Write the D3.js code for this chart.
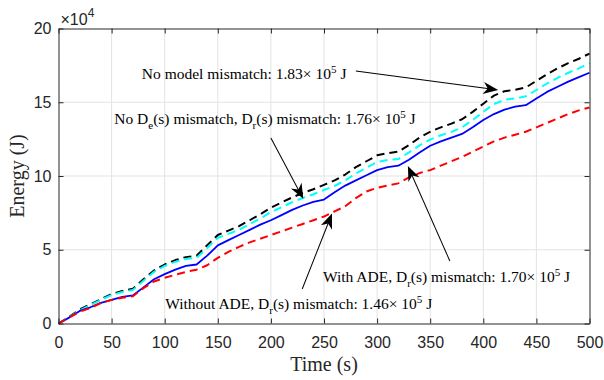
<!DOCTYPE html>
<html>
<head>
<meta charset="utf-8">
<script src="https://cdn.jsdelivr.net/npm/d3@7"></script>
<style>
  body { margin: 0; background: #fff; }
</style>
</head>
<body>
<div id="energy-plot"></div>
<script>
// energy consumed over time for four mismatch cases (values in units of 1e4 J)
const time = [0, 10, 20, 30, 40, 50, 60, 70, 80, 90, 100, 110, 120, 130, 140, 150, 160, 170, 180, 190,
  200, 210, 220, 230, 240, 250, 260, 270, 280, 290, 300, 310, 320, 330, 340, 350, 360, 370, 380, 390,
  400, 410, 420, 430, 440, 450, 460, 470, 480, 490, 500];

const noMismatch = [0, 0.45, 0.95, 1.3, 1.65, 2.0, 2.2, 2.35, 3.0, 3.6, 4.0, 4.3, 4.5, 4.6, 5.3, 6.0, 6.3, 6.6, 7.0, 7.4,
  7.85, 8.2, 8.55, 8.85, 9.1, 9.4, 9.7, 10.1, 10.6, 11.0, 11.4, 11.55, 11.65, 12.1, 12.6, 13.0, 13.3, 13.55, 13.85, 14.35,
  14.9, 15.45, 15.75, 15.85, 16.0, 16.45, 16.9, 17.3, 17.65, 17.95, 18.3];

const noDeMismatch = [0, 0.42, 0.9, 1.25, 1.6, 1.93, 2.13, 2.27, 2.9, 3.5, 3.9, 4.18, 4.37, 4.45, 5.12, 5.8, 6.08, 6.36, 6.74, 7.12,
  7.55, 7.88, 8.22, 8.51, 8.76, 9.05, 9.33, 9.7, 10.18, 10.56, 10.95, 11.08, 11.15, 11.6, 12.08, 12.47, 12.76, 12.99, 13.3, 13.8,
  14.35, 14.88, 15.17, 15.26, 15.4, 15.83, 16.27, 16.66, 17.0, 17.3, 17.65];

const withADE = [0, 0.4, 0.85, 1.1, 1.4, 1.6, 1.8, 1.9, 2.45, 3.0, 3.35, 3.65, 3.9, 4.0, 4.6, 5.3, 5.65, 6.0, 6.35, 6.7,
  7.0, 7.35, 7.7, 8.0, 8.25, 8.4, 8.9, 9.35, 9.7, 10.05, 10.4, 10.6, 10.7, 11.1, 11.6, 12.05, 12.35, 12.6, 12.85, 13.3,
  13.8, 14.2, 14.5, 14.7, 14.8, 15.25, 15.7, 16.05, 16.4, 16.7, 17.0];

const withoutADE = [0, 0.4, 0.8, 1.05, 1.4, 1.6, 1.75, 1.85, 2.4, 2.85, 3.1, 3.3, 3.5, 3.65, 3.95, 4.45, 4.85, 5.2, 5.5, 5.75,
  6.0, 6.25, 6.5, 6.75, 7.0, 7.25, 7.6, 7.95, 8.5, 8.95, 9.2, 9.35, 9.5, 9.9, 10.2, 10.4, 10.7, 11.0, 11.3, 11.65,
  12.0, 12.35, 12.6, 12.8, 13.0, 13.3, 13.6, 13.9, 14.2, 14.45, 14.65];

const xTicks = [0, 50, 100, 150, 200, 250, 300, 350, 400, 450, 500];
const yTicks = [0, 5, 10, 15, 20];

const series = [
  { name: "noMismatch", values: noMismatch, color: "#000000", dash: "8,5" },
  { name: "noDeMismatch", values: noDeMismatch, color: "#00ffff", dash: "8,5" },
  { name: "withADE", values: withADE, color: "#0000ff", dash: null },
  { name: "withoutADE", values: withoutADE, color: "#ff0000", dash: "8,5" }
];

// annotation text pieces: s = sub, p = super; positions in data units
const annotations = [
  { text: [["No model mismatch: 1.83× 10"], ["5", "p"], [" J"]], tx: 78.5, ty: 16.58, from: [280, 17.12], to: [414, 15.83] },
  { text: [["No D"], ["e", "s"], ["(s) mismatch, D"], ["r", "s"], ["(s) mismatch: 1.76× 10"], ["5", "p"], [" J"]], tx: 52.5, ty: 13.54, from: [200, 12.58], to: [230.5, 8.45] },
  { text: [["With ADE, D"], ["r", "s"], ["(s) mismatch: 1.70× 10"], ["5", "p"], [" J"]], tx: 249, ty: 2.81, from: [368.5, 4.24], to: [329, 10.68] },
  { text: [["Without ADE, D"], ["r", "s"], ["(s) mismatch: 1.46× 10"], ["5", "p"], [" J"]], tx: 100.5, ty: 0.98, from: [229.5, 2.34], to: [257.5, 7.45] }
];

const serif = "'Liberation Serif', 'Times New Roman', serif";
const sans = "'Liberation Sans', Arial, sans-serif";

const margin = { top: 28.5, right: 14.5, bottom: 56.5, left: 58.5 },
  width = 604 - margin.left - margin.right,
  height = 380 - margin.top - margin.bottom;

const svg = d3.select("#energy-plot")
  .append("svg")
  .attr("width", 604)
  .attr("height", 380)
  .append("g")
  .attr("transform", `translate(${margin.left},${margin.top})`);

const x = d3.scaleLinear().domain([0, 500]).range([0, width]);
const y = d3.scaleLinear().domain([0, 20]).range([height, 0]);

// grid
svg.append("g")
  .selectAll("line.vgrid")
  .data(xTicks.slice(1, -1))
  .enter()
  .append("line")
  .attr("x1", d => x(d)).attr("x2", d => x(d))
  .attr("y1", 0).attr("y2", height)
  .attr("stroke", "#e3e3e3").attr("stroke-width", 1);

svg.append("g")
  .selectAll("line.hgrid")
  .data(yTicks.slice(1, -1))
  .enter()
  .append("line")
  .attr("x1", 0).attr("x2", width)
  .attr("y1", d => y(d)).attr("y2", d => y(d))
  .attr("stroke", "#e3e3e3").attr("stroke-width", 1);

// curves
const line = d3.line()
  .x((d, i) => x(time[i]))
  .y(d => y(d));

series.forEach(s => {
  svg.append("path")
    .datum(s.values)
    .attr("d", line)
    .attr("fill", "none")
    .attr("stroke", s.color)
    .attr("stroke-width", s.dash ? 2 : 1.8)
    .attr("stroke-dasharray", s.dash)
    .attr("stroke-linejoin", "round");
});

// axes with inward ticks on all four sides
const axisColor = "#262626";
function styleAxis(g) {
  g.select(".domain").attr("stroke", axisColor);
  g.selectAll(".tick line").attr("stroke", axisColor);
  g.selectAll("text").attr("fill", "#262626").style("font-family", sans).style("font-size", "16px");
}

svg.append("g")
  .attr("transform", `translate(0,${height})`)
  .call(d3.axisBottom(x).tickValues(xTicks).tickSizeInner(-5).tickSizeOuter(0).tickPadding(13))
  .call(styleAxis);

svg.append("g")
  .call(d3.axisLeft(y).tickValues(yTicks).tickSizeInner(-5).tickSizeOuter(0).tickPadding(7))
  .call(styleAxis);

svg.append("g")
  .call(d3.axisTop(x).tickValues(xTicks).tickSizeInner(-5).tickSizeOuter(0).tickFormat(""))
  .call(styleAxis);

svg.append("g")
  .attr("transform", `translate(${width},0)`)
  .call(d3.axisRight(y).tickValues(yTicks).tickSizeInner(-5).tickSizeOuter(0).tickFormat(""))
  .call(styleAxis);

// exponent label
const expo = svg.append("text")
  .attr("x", 2)
  .attr("y", -3.5)
  .attr("fill", "#262626")
  .style("font-family", sans)
  .style("font-size", "16px");
expo.append("tspan").text("×10");
expo.append("tspan").attr("dy", -8).style("font-size", "12px").text("4");

// axis labels
svg.append("text")
  .attr("x", width / 2)
  .attr("y", height + 47)
  .attr("text-anchor", "middle")
  .attr("fill", "#262626")
  .style("font-family", serif)
  .style("font-size", "20px")
  .text("Time (s)");

svg.append("text")
  .attr("transform", "rotate(-90)")
  .attr("x", -height / 2)
  .attr("y", -margin.left + 24)
  .attr("text-anchor", "middle")
  .attr("fill", "#262626")
  .style("font-family", serif)
  .style("font-size", "20px")
  .text("Energy (J)");

// annotations
const headLen = 15, headW = 12, notch = 0.3;
annotations.forEach(a => {
  const t = svg.append("text")
    .attr("x", x(a.tx))
    .attr("y", y(a.ty))
    .attr("fill", "#000")
    .style("font-family", serif)
    .style("font-size", "15.5px");
  let shift = 0;
  a.text.forEach(([str, kind]) => {
    const target = kind === "s" ? 5 : kind === "p" ? -6 : 0;
    const span = t.append("tspan").attr("dy", target - shift).text(str);
    if (kind) span.style("font-size", "11px");
    shift = target;
  });

  const x1 = x(a.from[0]), y1 = y(a.from[1]);
  const x2 = x(a.to[0]), y2 = y(a.to[1]);
  const ang = Math.atan2(y2 - y1, x2 - x1) * 180 / Math.PI;
  const len = Math.hypot(x2 - x1, y2 - y1);

  const g = svg.append("g")
    .attr("transform", `translate(${x1},${y1}) rotate(${ang})`);
  g.append("line")
    .attr("x1", 0).attr("y1", 0)
    .attr("x2", len - headLen * 0.6).attr("y2", 0)
    .attr("stroke", "#000").attr("stroke-width", 1);
  g.append("path")
    .attr("d", `M${len},0 L${len - headLen},${-headW / 2} L${len - headLen * (1 - notch)},0 L${len - headLen},${headW / 2} Z`)
    .attr("fill", "#000");
});
</script>
</body>
</html>
